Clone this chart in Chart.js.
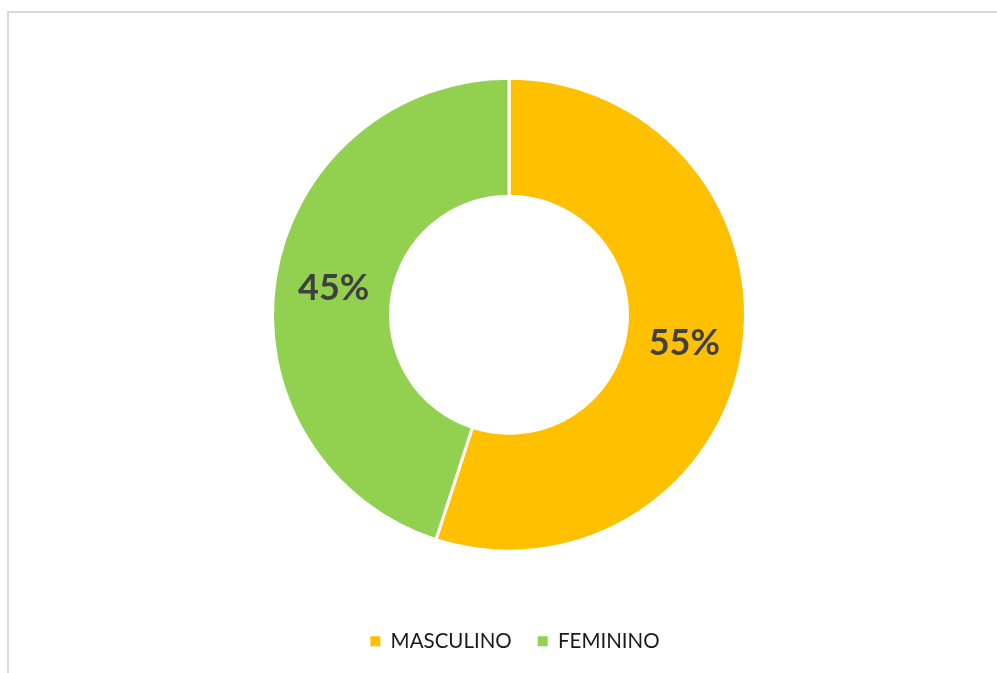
<!DOCTYPE html>
<html>
<head>
<meta charset="utf-8">
<script src="https://cdn.jsdelivr.net/npm/chart.js@4/dist/chart.umd.min.js"></script>
<style>
  html, body { margin: 0; padding: 0; background: #fff; }
  #wrap { position: relative; width: 997px; height: 673px; }
</style>
</head>
<body>
<div id="wrap"><canvas id="c" width="997" height="673"></canvas></div>
<script>
const categories = ['MASCULINO', 'FEMININO'];
const values = [55, 45];
const valueLabels = ['55%', '45%'];
const colors = ['#FFC000', '#92D050'];

const framePlugin = {
  id: 'frame',
  beforeDraw(chart) {
    const ctx = chart.ctx;
    ctx.save();
    ctx.strokeStyle = '#d9d9d9';
    ctx.lineWidth = 2;
    ctx.beginPath();
    ctx.moveTo(8, 700);
    ctx.lineTo(8, 12);
    ctx.lineTo(1100, 12);
    ctx.stroke();
    ctx.restore();
  }
};

const labelPlugin = {
  id: 'sliceLabels',
  afterDatasetsDraw(chart) {
    const ctx = chart.ctx;
    const meta = chart.getDatasetMeta(0);
    ctx.save();
    ctx.font = 'bold 36px Lato';
    ctx.fillStyle = '#404040';
    ctx.textAlign = 'center';
    ctx.textBaseline = 'middle';
    meta.data.forEach((arc, i) => {
      const p = arc.getCenterPoint();
      ctx.fillText(valueLabels[i], p.x, p.y + 1);
    });
    ctx.restore();
  }
};

const legendShift = {
  id: 'legendShift',
  afterLayout(chart) {
    const lg = chart.legend;
    if (lg) { lg.left += 6; lg.right += 6; }
  }
};

new Chart(document.getElementById('c'), {
  type: 'doughnut',
  data: {
    labels: categories,
    datasets: [{
      data: values,
      backgroundColor: colors,
      borderColor: '#ffffff',
      borderWidth: 3,
      hoverOffset: 0,
      offset: 0
    }]
  },
  options: {
    responsive: false,
    animation: false,
    radius: 236.5,
    cutout: '50.1%',
    layout: { padding: { left: 21, right: 0, top: 24.5, bottom: 11.5 } },
    plugins: {
      tooltip: { enabled: false },
      legend: {
        position: 'bottom',
        labels: {
          boxWidth: 10,
          boxHeight: 10,
          padding: 26,
          color: '#1a1a1a',
          font: { family: 'Lato', size: 20.5 },
          generateLabels(chart) {
            const items = Chart.overrides.doughnut.plugins.legend.labels.generateLabels(chart);
            items.forEach(it => { it.lineWidth = 0; it.strokeStyle = it.fillStyle; });
            return items;
          }
        }
      }
    }
  },
  plugins: [framePlugin, labelPlugin, legendShift]
});
</script>
</body>
</html>
